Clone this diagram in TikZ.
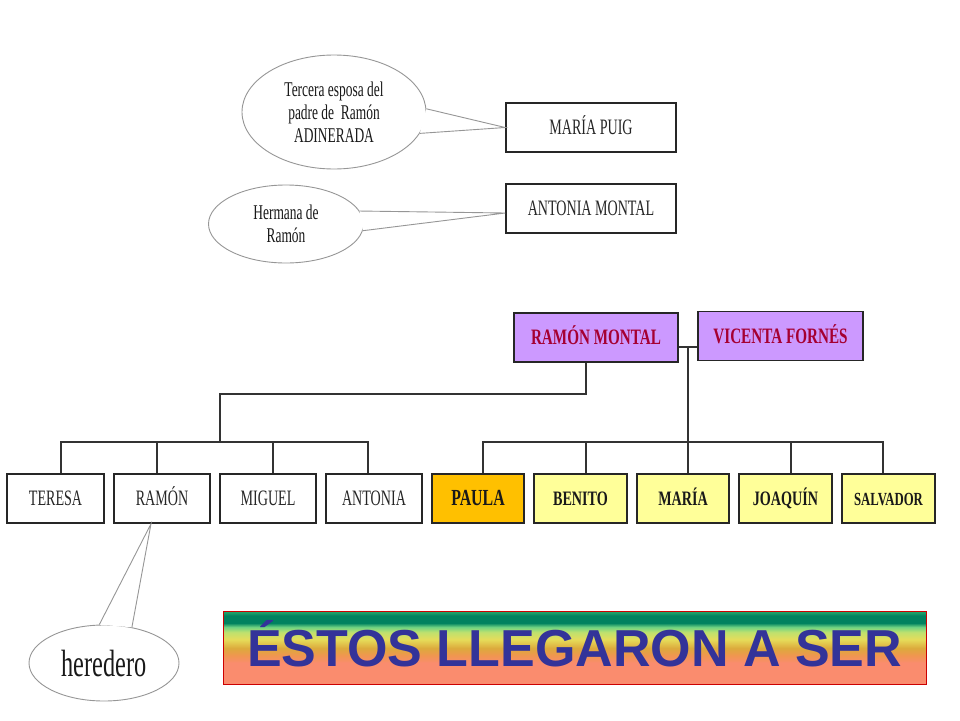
\documentclass[tikz,border=0pt]{standalone}
\usepackage{fontspec}
\setmainfont{Liberation Serif}
\newfontfamily\nserif[FakeStretch=0.64]{Liberation Serif}
\newfontfamily\nbold[FakeStretch=0.69]{Liberation Serif}
\newfontfamily\bannerfont{Liberation Sans}
\usetikzlibrary{shapes.geometric}
\definecolor{lilac}{RGB}{204,153,255}
\definecolor{crimsontxt}{RGB}{165,0,50}
\definecolor{paleyellow}{RGB}{255,255,153}
\definecolor{goldfill}{RGB}{255,192,0}
\definecolor{bubblegray}{RGB}{150,150,150}
\definecolor{bannerblue}{RGB}{51,51,153}
\definecolor{bsalmon}{RGB}{250,140,110}
\definecolor{borange}{RGB}{240,150,80}
\definecolor{bgold}{RGB}{220,170,60}
\definecolor{byellow}{RGB}{230,220,90}
\definecolor{bygreen}{RGB}{190,225,110}
\definecolor{blgreen}{RGB}{110,210,130}
\definecolor{bteal}{RGB}{0,130,95}
\definecolor{bmgreen}{RGB}{30,160,105}
\pgfdeclareverticalshading{bannershade}{100bp}{color(0bp)=(bsalmon); color(39.5bp)=(bsalmon); color(44.5bp)=(borange); color(49.5bp)=(bgold); color(55.5bp)=(byellow); color(60.5bp)=(bygreen); color(64bp)=(blgreen); color(66.8bp)=(bteal); color(71.8bp)=(bteal); color(74bp)=(bmgreen); color(100bp)=(bmgreen)}
\begin{document}
\begin{tikzpicture}[x=1pt,y=-1pt,
  box/.style={rectangle, draw=black!85, line width=1.6pt, inner sep=0pt, minimum height=49pt, text=black!85, text height=14.5pt, text depth=0pt},
  plain/.style={box, fill=white, font=\nserif\fontsize{22}{22}\selectfont},
  parent/.style={box, fill=lilac, text=crimsontxt, font=\nbold\bfseries\fontsize{22}{22}\selectfont},
  kid/.style={box, fill=paleyellow, text=black!90, font=\nbold\bfseries\fontsize{20.5}{20.5}\selectfont},
  bubble/.style={ellipse, draw=bubblegray, line width=0.9pt, fill=white, inner sep=0pt, align=center, text=black!90},
  tail/.style={draw=bubblegray, line width=0.9pt},
  link/.style={draw=black!80, line width=1.6pt},
  banner/.style={rectangle, draw=red!80!black, line width=0.8pt, inner sep=0pt, shade, shading=bannershade, text=bannerblue, text height=37pt, text depth=0pt}
]
\useasboundingbox (0,0) rectangle (960,720);

% top boxes
\node[plain, minimum width=170pt] (mp) at (591,127.5) {MARÍA PUIG};
\node[plain, minimum width=170pt] (am) at (591,208.5) {ANTONIA MONTAL};

% parents
\node[parent, minimum width=164pt] (rm) at (596,337.5) {RAMÓN MONTAL};
\node[parent, minimum width=165pt] (vf) at (780.5,336) {VICENTA FORNÉS};

% children
\node[plain, minimum width=97pt] (te) at (55.5,498.5) {TERESA};
\node[plain, minimum width=96pt] (ra) at (162,498.5) {RAMÓN};
\node[plain, minimum width=96pt] (mi) at (268,498.5) {MIGUEL};
\node[plain, minimum width=96pt] (an) at (374,498.5) {ANTONIA};
\node[kid, fill=goldfill, minimum width=92pt, font=\nbold\bfseries\fontsize{23}{23}\selectfont] (pa) at (478,498.5) {PAULA};
\node[kid, minimum width=93pt] (be) at (580.5,498.5) {BENITO};
\node[kid, minimum width=92pt] (ma) at (683,498.5) {MARÍA};
\node[kid, minimum width=93pt] (jo) at (785.5,498.5) {JOAQUÍN};
\node[kid, minimum width=93pt, font=\nbold\bfseries\fontsize{18.5}{18.5}\selectfont] (sa) at (888.5,498.5) {SALVADOR};

% connectors, first family
\coordinate (lup) at (220,394);
\coordinate (lbus) at (220,443);
\draw[link] ([xshift=-10pt]rm.south) |- (lup) -- (lbus);
\draw[link] ([xshift=5.5pt]te.north) -- ++(0,-31) -| ([xshift=-6pt]an.north);
\draw[link] ([xshift=-5pt]ra.north) -- ++(0,-31);
\draw[link] ([xshift=5pt]mi.north) -- ++(0,-31);

% connectors, second family
\coordinate (m) at (688,347);
\coordinate (rbus) at (688,443);
\draw[link] (rm.east |- m) -- (vf.west |- m);
\draw[link] (m) -- (rbus);
\draw[link] ([xshift=5pt]pa.north) -- ++(0,-31) -| ([xshift=-5.5pt]sa.north);
\draw[link] ([xshift=5.5pt]be.north) -- ++(0,-31);
\draw[link] ([xshift=5pt]ma.north) -- ++(0,-31);
\draw[link] ([xshift=5.5pt]jo.north) -- ++(0,-31);

% callouts
\node[bubble, minimum width=184pt, minimum height=114pt, font=\nserif\fontsize{21}{23}\selectfont] (c1) at (334,112) {Tercera esposa del\\padre de~ Ramón\\ADINERADA};
\fill[white] (c1.2) -- (mp.west) -- (c1.-14) -- cycle;
\draw[tail] (c1.2) -- (mp.west) -- (c1.-14);

\node[bubble, minimum width=155pt, minimum height=78pt, font=\nserif\fontsize{21}{23}\selectfont] (c2) at (286,224) {Hermana de\\Ramón};
\fill[white] (c2.10) -- ([yshift=-4.5pt]am.west) -- (c2.-5) -- cycle;
\draw[tail] (c2.10) -- ([yshift=-4.5pt]am.west) -- (c2.-5);

\node[bubble, minimum width=150pt, minimum height=76pt, font=\nserif\fontsize{38}{38}\selectfont] (c3) at (104,663) {heredero};
\fill[white] (c3.97) -- ([xshift=-11pt]ra.south) -- (c3.52) -- cycle;
\draw[tail] (c3.97) -- ([xshift=-11pt]ra.south) -- (c3.52);

% banner
\node[banner, minimum width=703pt, minimum height=73pt, font=\bannerfont\bfseries\fontsize{52}{52}\selectfont] (bn) at (574.5,647.5) {ÉSTOS LLEGARON A SER};
\end{tikzpicture}
\end{document}
